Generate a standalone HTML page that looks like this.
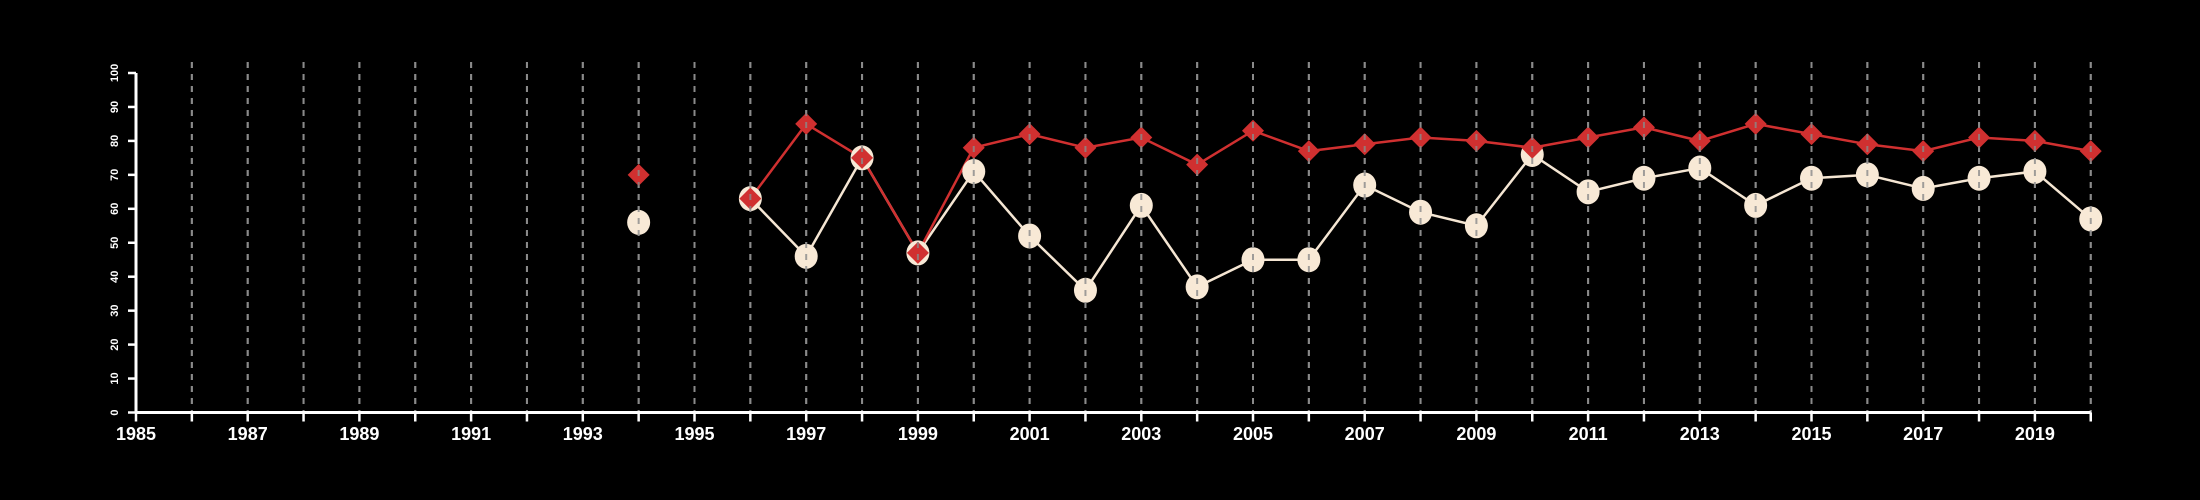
<!DOCTYPE html>
<html><head><meta charset="utf-8"><style>
html,body{margin:0;padding:0;background:#000;}
svg{display:block;}
text{font-family:"Liberation Sans",Arial,sans-serif;fill:#fff;}
</style></head><body>
<svg id="chart" width="2200" height="500" viewBox="0 0 2200 500" xmlns="http://www.w3.org/2000/svg">
<rect width="2200" height="500" fill="#000"/>
<g id="grid"></g>
<g id="lines"></g>
<g id="marks"></g>
<g id="grid2"></g>
<g id="axes"></g>
</svg>
<script>
const years = [1994,1996,1997,1998,1999,2000,2001,2002,2003,2004,2005,2006,2007,2008,2009,2010,2011,2012,2013,2014,2015,2016,2017,2018,2019,2020];
const redValues = [70,63,85,75,47,78,82,78,81,73,83,77,79,81,80,78,81,84,80,85,82,79,77,81,80,77];
const whiteValues = [56,63,46,75,47,71,52,36,61,37,45,45,67,59,55,76,65,69,72,61,69,70,66,69,71,57];
const yTicks = [0,10,20,30,40,50,60,70,80,90,100];
const xLabels = [1985,1987,1989,1991,1993,1995,1997,1999,2001,2003,2005,2007,2009,2011,2013,2015,2017,2019];

const NS="http://www.w3.org/2000/svg";
const X0=136, YR0=1985, PPY=55.85, Y0=412.5, Y100=73;
function xs(y){return X0+(y-YR0)*PPY;}
function ys(v){return Y0-(v/100)*(Y0-Y100);}
function mk(tag,attrs,parent){const e=document.createElementNS(NS,tag);for(const k in attrs)e.setAttribute(k,attrs[k]);parent.appendChild(e);return e;}
const grid=document.getElementById('grid'),grid2=document.getElementById('grid2'),lines=document.getElementById('lines'),marks=document.getElementById('marks'),axes=document.getElementById('axes');

for(let yr=1986;yr<=2020;yr++){
  for(const g of [grid,grid2]){
    const l=mk('line',{x1:xs(yr),x2:xs(yr),y1:62,y2:Y0,stroke:'#8a8a8a','stroke-width':2,'stroke-dasharray':'6,6'},g);
    
    
  }
}
grid2.setAttribute('opacity','0.8');

function segments(vals){
  const segs=[];let cur=[];
  for(let i=0;i<years.length;i++){
    if(i>0&&years[i]-years[i-1]>1){segs.push(cur);cur=[];}
    cur.push([xs(years[i]),ys(vals[i])]);
  }
  segs.push(cur);return segs;
}
function drawLine(vals,color,name){
  segments(vals).forEach(s=>{
    if(s.length<2)return;
    const p=mk('polyline',{points:s.map(q=>q.join(',')).join(' '),fill:'none',stroke:color,'stroke-width':2.5},lines);
    
    
  });
}
drawLine(whiteValues,'#f5e6d3','white-series-line');
drawLine(redValues,'#d03030','red-series-line');

years.forEach((yr,i)=>{
  const c=mk('ellipse',{cx:xs(yr),cy:ys(whiteValues[i]),rx:11.5,ry:12.5,fill:'#f8e9d6'},marks);
  
  
});
years.forEach((yr,i)=>{
  const x=xs(yr),y=ys(redValues[i]),r=11;
  const d=mk('polygon',{points:`${x},${y-r} ${x+r},${y} ${x},${y+r} ${x-r},${y}`,fill:'#d03030'},marks);
  
  
});

// axes
let a=mk('line',{x1:X0,x2:xs(2020),y1:Y0,y2:Y0,stroke:'#fff','stroke-width':3},axes);

a=mk('line',{x1:X0,x2:X0,y1:Y100,y2:Y0,stroke:'#fff','stroke-width':3},axes);

for(let yr=1985;yr<=2020;yr++){
  const t=mk('line',{x1:xs(yr),x2:xs(yr),y1:Y0,y2:Y0+9,stroke:'#fff','stroke-width':2.5},axes);
  
  
}
xLabels.forEach(yr=>{
  const t=mk('text',{x:xs(yr),y:440,'text-anchor':'middle','font-size':18,'font-weight':'bold'},axes);
  t.textContent=yr;
  
  
});
yTicks.forEach(v=>{
  const t=mk('line',{x1:X0-8,x2:X0,y1:ys(v),y2:ys(v),stroke:'#fff','stroke-width':2.5},axes);
  
  
  const l=mk('text',{x:0,y:0,'text-anchor':'middle','font-size':11,'font-weight':'bold',transform:`translate(118,${ys(v)}) rotate(-90)`},axes);
  l.textContent=v;
  
  
});
</script>
</body></html>
